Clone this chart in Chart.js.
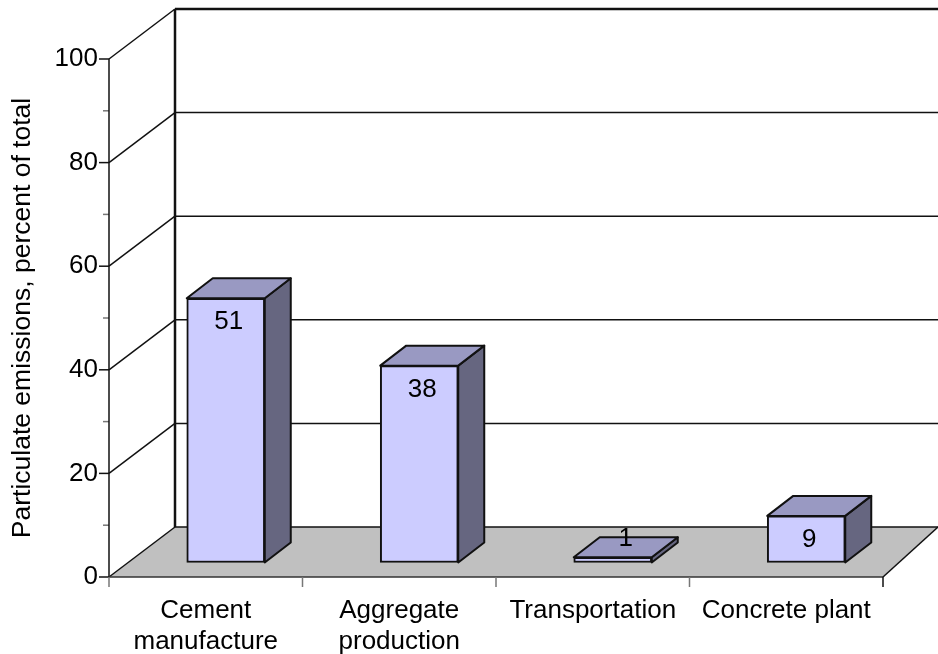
<!DOCTYPE html>
<html>
<head>
<meta charset="utf-8">
<title>Particulate emissions</title>
<script src="https://cdn.jsdelivr.net/npm/chart.js@4"></script>
<style>
  html, body { margin: 0; padding: 0; background: #fff; overflow: hidden; }
  canvas { display: block; }
</style>
</head>
<body>
<canvas id="emissions" width="938" height="654"></canvas>
<script>
// --- Data ---
const categories = [['Cement', 'manufacture'], ['Aggregate', 'production'], 'Transportation', 'Concrete plant'];
const emissionShares = [51, 38, 1, 9];
const yTickValues = [0, 20, 40, 60, 80, 100];

const FONT = '"Liberation Sans", Arial, sans-serif';

// Depth of the box the chart sits in, and of the bars inside it
const wall = { dx: 66, dy: -50 };
const floorRightDx = 55;
const barDepth = { dx: 26, dy: -20 };
const barShift = { dx: 20, dy: -14.5 };

const colors = {
  front: '#ccccff',
  top: '#9999c2',
  side: '#666680',
  floor: '#c0c0c0',
  line: '#111111',
  minorTick: '#777777'
};

function strokeLine(ctx, x1, y1, x2, y2, width, color) {
  ctx.beginPath();
  ctx.moveTo(x1, y1);
  ctx.lineTo(x2, y2);
  ctx.lineWidth = width;
  ctx.strokeStyle = color || colors.line;
  ctx.stroke();
}

function fillFace(ctx, points, color) {
  ctx.beginPath();
  points.forEach((p, i) => (i ? ctx.lineTo(p[0], p[1]) : ctx.moveTo(p[0], p[1])));
  ctx.closePath();
  ctx.fillStyle = color;
  ctx.fill();
  ctx.lineWidth = 2;
  ctx.strokeStyle = colors.line;
  ctx.lineJoin = 'round';
  ctx.stroke();
}

// Back wall, side wall, floor and axis ticks
const boxPlugin = {
  id: 'box',
  beforeDatasetsDraw(chart) {
    const { ctx, scales: { x, y }, width } = chart;
    const left = x.left, right = x.right, bottom = y.bottom;
    ctx.save();

    ctx.beginPath();
    ctx.moveTo(left, bottom);
    ctx.lineTo(left + wall.dx, bottom + wall.dy);
    ctx.lineTo(width, bottom + wall.dy);
    ctx.lineTo(right, bottom);
    ctx.closePath();
    ctx.fillStyle = colors.floor;
    ctx.fill();

    y.ticks.forEach(tick => {
      const py = y.getPixelForValue(tick.value);
      if (!yTickValues.includes(tick.value)) {
        strokeLine(ctx, left - 6, py, left, py, 1.5, colors.minorTick);
        return;
      }
      const isTop = tick.value === y.max;
      strokeLine(ctx, left - 10, py, left, py, 1.5);
      strokeLine(ctx, left, py, left + wall.dx, py + wall.dy, 1.5);
      strokeLine(ctx, left + wall.dx, py + wall.dy, width, py + wall.dy, isTop ? 2.5 : 1.5);
    });

    strokeLine(ctx, left + wall.dx, y.top + wall.dy, left + wall.dx, bottom + wall.dy, 2.5);
    strokeLine(ctx, left, y.top, left, bottom, 1.5);
    strokeLine(ctx, left, bottom, right, bottom, 1.5, '#333333');
    strokeLine(ctx, right, bottom, right + floorRightDx, bottom + wall.dy, 1.5);

    for (let i = 0; i <= categories.length; i++) {
      const px = left + i * x.width / categories.length;
      strokeLine(ctx, px, bottom, px, bottom + 10, 1.5, i === categories.length ? colors.line : colors.minorTick);
    }
    ctx.restore();
  }
};

// Top and side faces come from the bar elements, the front face is the bar itself
const barFacesPlugin = {
  id: 'barFaces',
  beforeDatasetDraw(chart, args) {
    const { ctx } = chart;
    ctx.save();
    ctx.translate(barShift.dx, barShift.dy);
    args.meta.data.forEach(bar => {
      const l = bar.x - bar.width / 2, r = bar.x + bar.width / 2;
      const t = bar.y, b = bar.base;
      const d = barDepth;
      fillFace(ctx, [[r, t], [r + d.dx, t + d.dy], [r + d.dx, b + d.dy], [r, b]], colors.side);
      fillFace(ctx, [[l, t], [l + d.dx, t + d.dy], [r + d.dx, t + d.dy], [r, t]], colors.top);
    });
  },
  afterDatasetDraw(chart, args) {
    const { ctx } = chart;
    ctx.restore();
    ctx.save();
    ctx.font = '26px ' + FONT;
    ctx.fillStyle = '#000';
    ctx.textAlign = 'center';
    ctx.textBaseline = 'middle';
    args.meta.data.forEach((bar, i) => {
      // A bar too flat to hold its number gets it above the top face
      const flat = bar.base - bar.y < 30;
      const px = bar.x + barShift.dx + (flat ? barDepth.dx / 2 : 3);
      const py = bar.y + barShift.dy + (flat ? -18 : 24);
      ctx.fillText(String(emissionShares[i]), px, py);
    });
    ctx.restore();
  }
};

new Chart(document.getElementById('emissions'), {
  type: 'bar',
  data: {
    labels: categories,
    datasets: [{
      data: emissionShares,
      backgroundColor: colors.front,
      borderColor: colors.line,
      borderWidth: 2,
      borderSkipped: false,
      barThickness: 78,
      clip: false
    }]
  },
  options: {
    responsive: false,
    animation: false,
    layout: { padding: { top: 59, right: 55 } },
    plugins: { legend: { display: false }, tooltip: { enabled: false } },
    scales: {
      x: {
        grid: { display: false },
        border: { display: false },
        ticks: {
          color: '#000',
          font: { family: FONT, size: 26 },
          padding: 10,
          maxRotation: 0,
          autoSkip: false
        },
        afterFit(scale) { scale.height = 77; }
      },
      y: {
        min: 0,
        max: 100,
        grid: { display: false },
        border: { display: false },
        afterBuildTicks(scale) {
          scale.ticks = [];
          for (let v = 0; v <= 100; v += 10) scale.ticks.push({ value: v });
        },
        ticks: {
          color: '#000',
          font: { family: FONT, size: 26 },
          padding: 3,
          autoSkip: false,
          callback: v => (yTickValues.includes(v) ? String(v) : '')
        },
        title: {
          display: true,
          text: 'Particulate emissions, percent of total',
          color: '#000',
          font: { family: FONT, size: 26.5 },
          padding: { top: 7, bottom: 0 }
        },
        afterFit(scale) { scale.width = 109; }
      }
    }
  },
  plugins: [boxPlugin, barFacesPlugin]
});
</script>
</body>
</html>
